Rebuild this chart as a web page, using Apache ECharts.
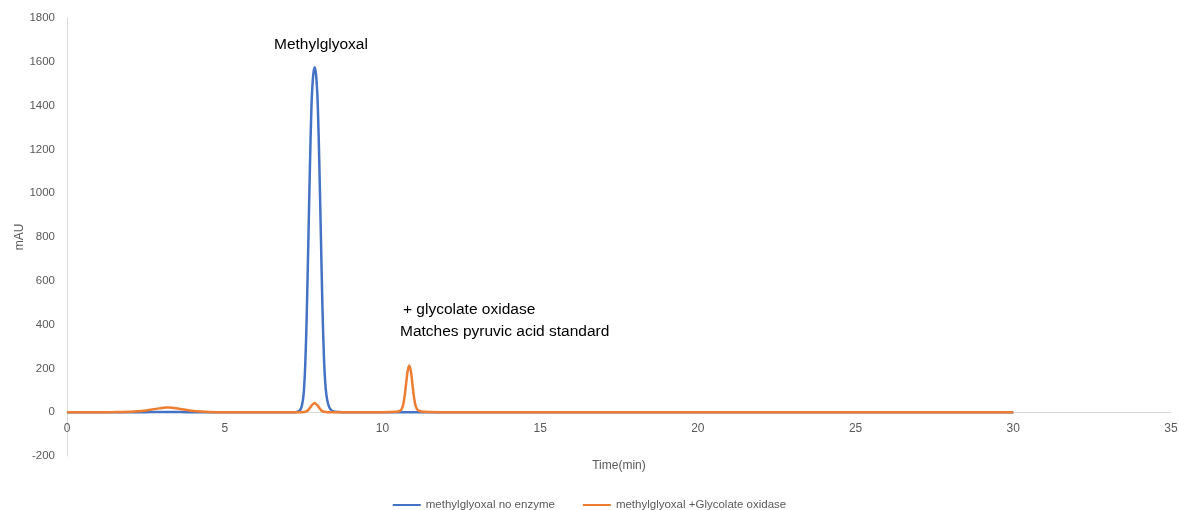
<!DOCTYPE html>
<html>
<head>
<meta charset="utf-8">
<script src="https://cdn.jsdelivr.net/npm/echarts@6/dist/echarts.min.js"></script>
<style>
  html, body { margin: 0; padding: 0; background: #fff; }
  #chart { width: 1179px; height: 510px; }
</style>
</head>
<body>
<div id="chart"></div>
<script>
// Retention time (min)
const timeMin = [
  0, 0.5, 1, 1.5, 2, 2.25, 2.5, 2.75, 3, 3.15, 3.25, 3.5, 3.75, 4, 4.25, 4.5, 5, 6, 7,
  7.2, 7.25, 7.3, 7.35, 7.4, 7.45, 7.5, 7.55, 7.6, 7.65, 7.7, 7.75, 7.8, 7.85,
  7.9, 7.95, 8.0, 8.05, 8.1, 8.15, 8.2, 8.25, 8.3, 8.35, 8.4, 8.45, 8.5, 8.6, 8.8,
  9, 9.5, 10, 10.3, 10.4, 10.45, 10.5, 10.55, 10.6, 10.65, 10.7, 10.75, 10.8, 10.85,
  10.9, 10.95, 11.0, 11.05, 11.1, 11.15, 11.2, 11.3, 11.5, 12, 14, 16, 18, 20,
  22, 24, 26, 28, 30
];

// Absorbance (mAU), methylglyoxal without enzyme
const noEnzyme = [
  0, 0, 0, 0, 0, 0, 0, 1, 1, 1, 1, 1, 0, 0, 0, 0, 0, 0, 0,
  0, 0, 2, 5, 12, 32, 80, 205, 440, 770, 1110, 1395, 1530, 1575,
  1535, 1405, 1130, 800, 470, 235, 110, 55, 28, 14, 7, 4, 2, 1, 0,
  0, 0, 0, 0, 0, 0, 0, 0, 0, 0, 0, 0, 0, 0,
  0, 0, 0, 0, 0, 0, 0, 0, 0, 0, 0, 0, 0, 0,
  0, 0, 0, 0, 0
];

// Absorbance (mAU), methylglyoxal with glycolate oxidase
const withOxidase = [
  0, 0, 0, 0.5, 2, 4, 8, 14, 19, 22, 21, 17, 11, 6, 3, 1, 0, 0, 0,
  0, 0, 0, 0, 0, 0, 1, 2, 5, 10, 19, 30, 37, 42,
  37, 30, 19, 10, 5, 2, 1, 0, 0, 0, 0, 0, 0, 0, 0,
  0, 0, 0, 1, 1.5, 2, 3, 6, 12, 29, 69, 129, 188, 213,
  188, 129, 69, 30, 13, 7, 4, 2, 1, 0, 0, 0, 0, 0,
  0, 0, 0, 0, 0
];

const seriesNames = ['methylglyoxal no enzyme', 'methylglyoxal +Glycolate oxidase'];
const xTicks = { min: 0, max: 35, step: 5 };
const yTicks = { min: -200, max: 1800, step: 200 };

const pairs = (ys) => timeMin.map((t, i) => [t, ys[i]]);

const labelColor = '#595959';
const axisColor = '#d9d9d9';

// plot box
const gridTop = 18, gridBottom = 54, chartH = 510;
const plotH = chartH - gridTop - gridBottom;
// the time axis sits on the zero line, which lies this far above the plot bottom
const zeroLift = plotH * (0 - yTicks.min) / (yTicks.max - yTicks.min);

const chart = echarts.init(document.getElementById('chart'), null, { renderer: 'canvas' });

chart.setOption({
  animation: false,
  textStyle: { fontFamily: 'Liberation Sans, sans-serif' },
  grid: {
    left: 67, right: 8, top: gridTop, bottom: gridBottom,
    containLabel: false, outerBoundsMode: 'none'
  },
  xAxis: {
    type: 'value',
    min: xTicks.min, max: xTicks.max, interval: xTicks.step,
    offset: -zeroLift,
    name: 'Time(min)', nameLocation: 'middle', nameGap: 47, nameMoveOverlap: false,
    nameTextStyle: { color: labelColor, fontSize: 12 },
    axisLine: { onZero: false, lineStyle: { color: axisColor, width: 1 } },
    axisTick: { show: false },
    axisLabel: { color: labelColor, fontSize: 12, margin: 10 },
    splitLine: { show: false }
  },
  yAxis: {
    type: 'value',
    min: yTicks.min, max: yTicks.max, interval: yTicks.step,
    name: 'mAU', nameLocation: 'middle', nameGap: 41, nameRotate: 90, nameMoveOverlap: false,
    nameTextStyle: { color: labelColor, fontSize: 12 },
    axisLine: { show: true, lineStyle: { color: axisColor, width: 1 } },
    axisTick: { show: false },
    axisLabel: { color: labelColor, fontSize: 11.5, margin: 12, formatter: (v) => String(v) },
    splitLine: { show: false }
  },
  legend: {
    top: 494, left: 'center', itemGap: 28, itemWidth: 28, itemHeight: 2,
    icon: 'rect',
    textStyle: { color: labelColor, fontSize: 11.5 },
    data: seriesNames
  },
  series: [
    {
      name: seriesNames[0], type: 'line', data: pairs(noEnzyme),
      smooth: 0.3, showSymbol: false,
      lineStyle: { color: '#4472C4', width: 2.5 }, itemStyle: { color: '#4472C4' }
    },
    {
      name: seriesNames[1], type: 'line', data: pairs(withOxidase),
      smooth: 0.3, showSymbol: false,
      lineStyle: { color: '#ED7D31', width: 2.5 }, itemStyle: { color: '#ED7D31' }
    }
  ],
  graphic: [
    {
      type: 'text', left: 274, top: 37,
      style: { text: 'Methylglyoxal', fill: '#000', font: '15.5px "Liberation Sans", sans-serif' }
    },
    {
      type: 'text', left: 403, top: 302,
      style: { text: '+ glycolate oxidase', fill: '#000', font: '15.5px "Liberation Sans", sans-serif' }
    },
    {
      type: 'text', left: 400, top: 324,
      style: { text: 'Matches pyruvic acid standard', fill: '#000', font: '15.5px "Liberation Sans", sans-serif' }
    }
  ]
});
</script>
</body>
</html>
